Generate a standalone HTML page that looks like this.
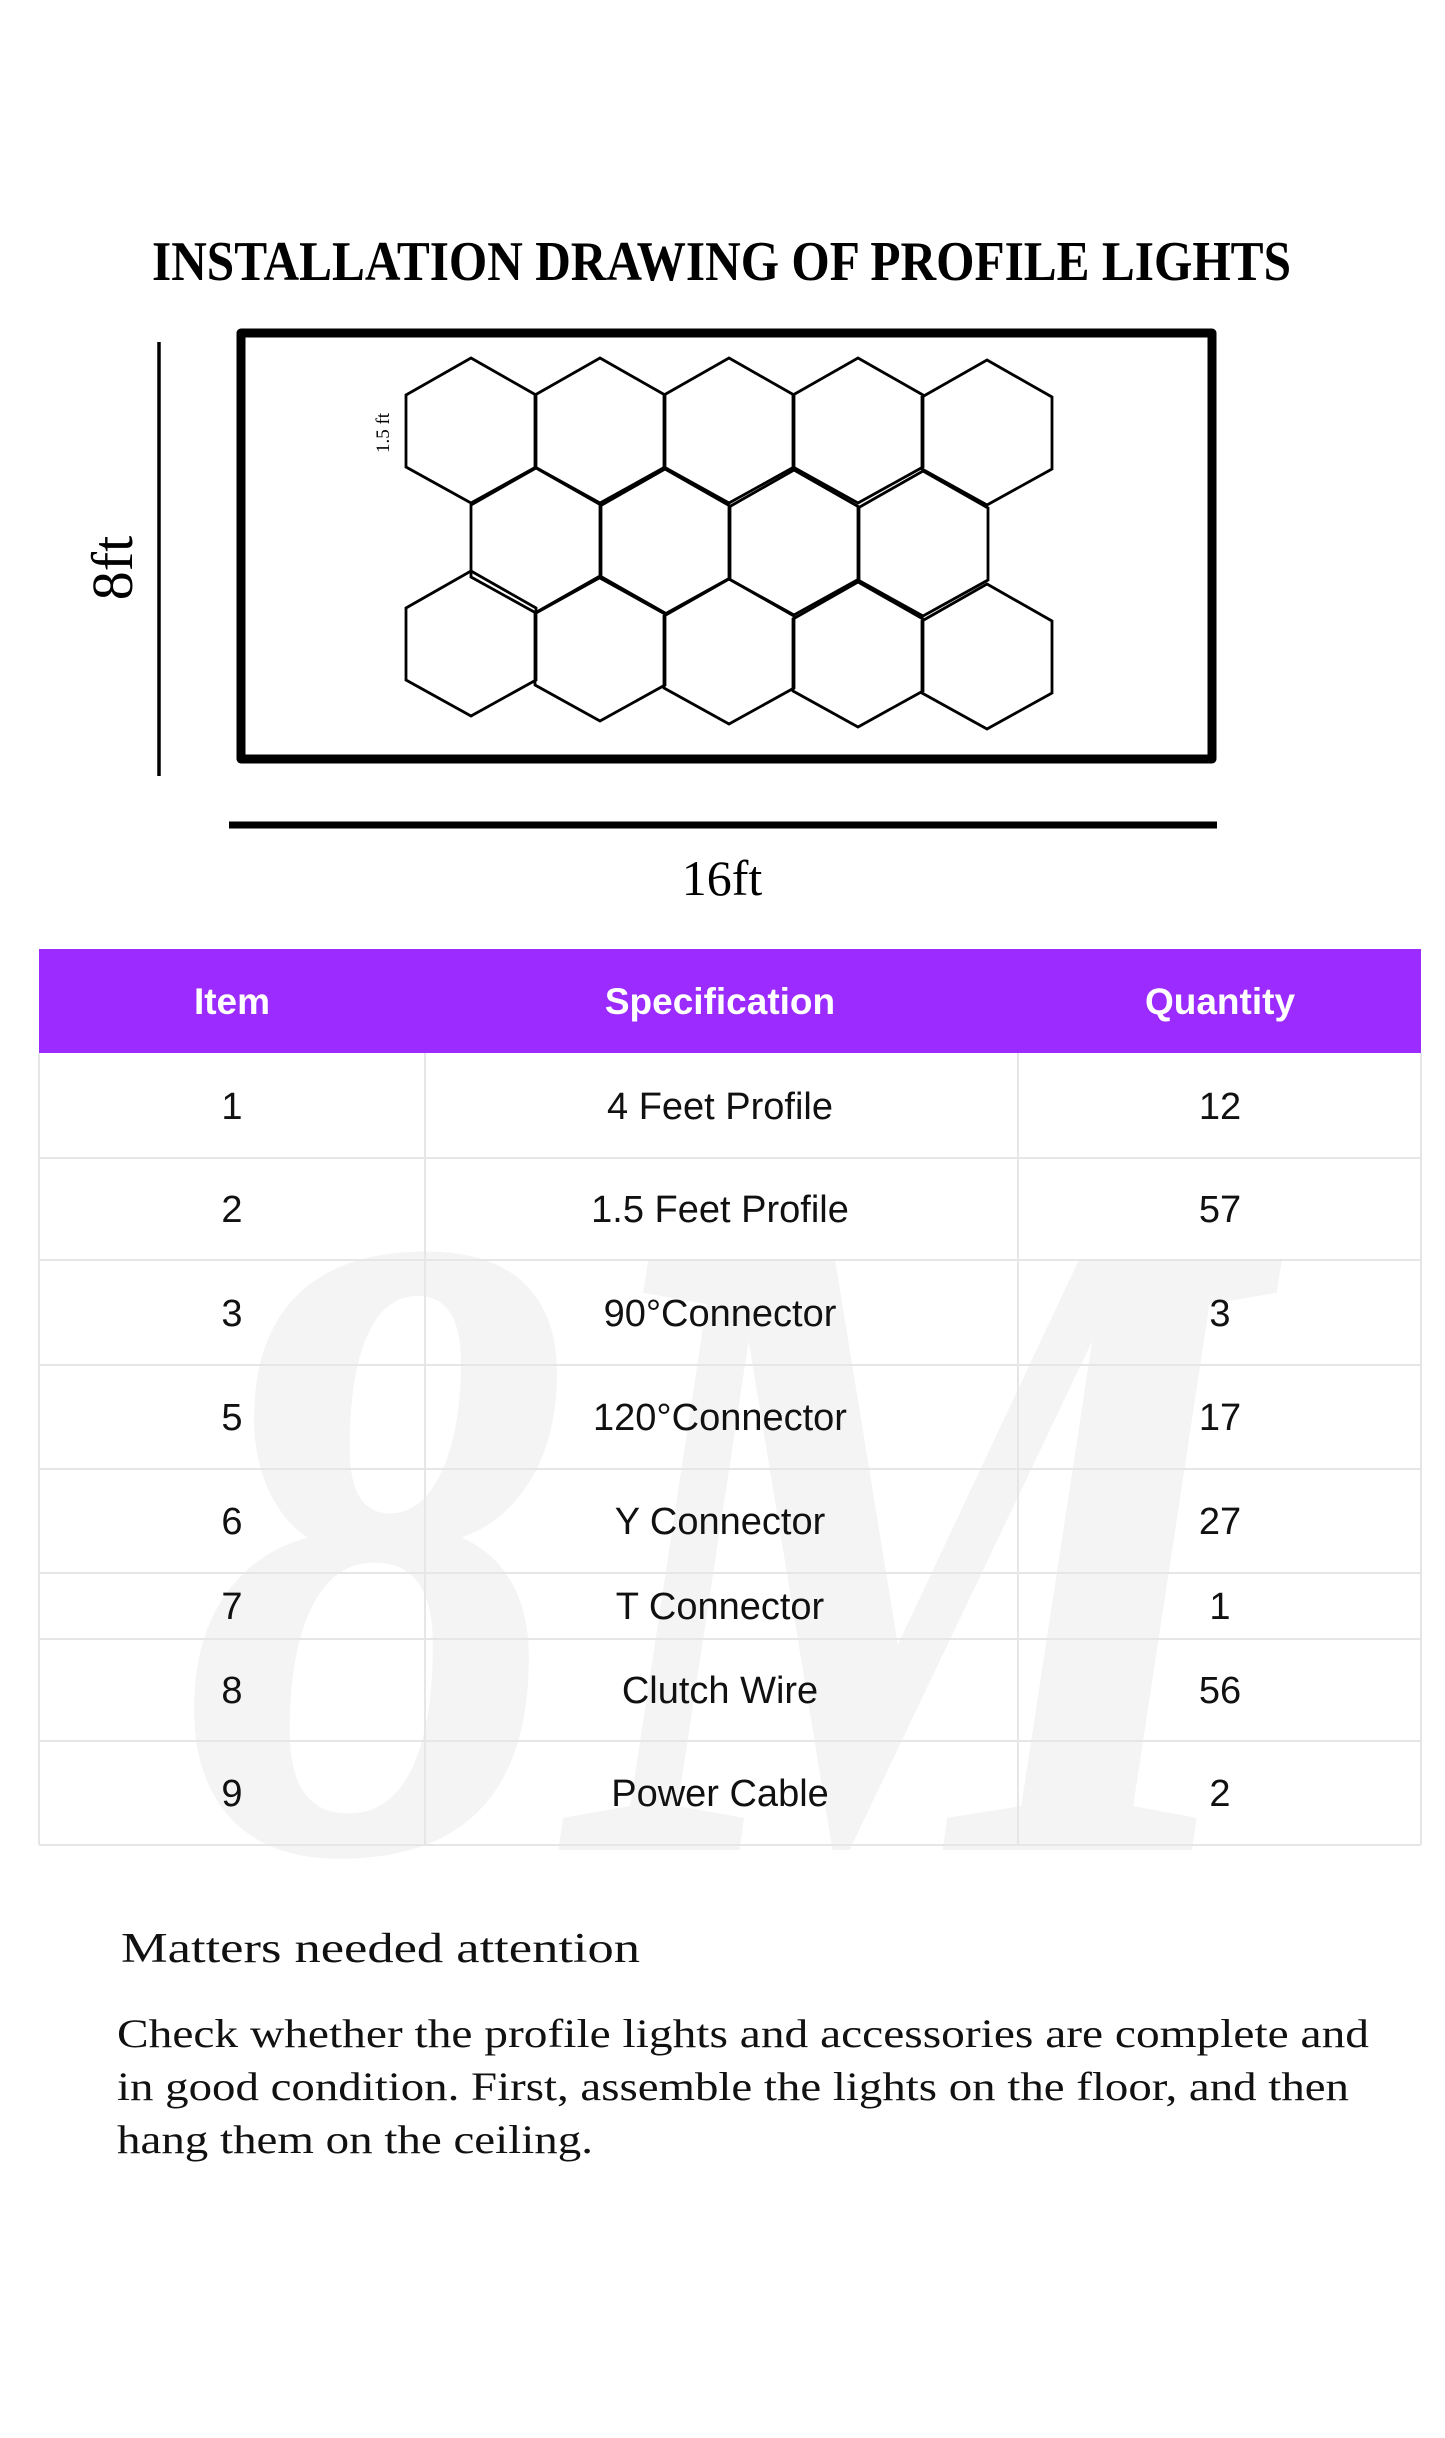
<!DOCTYPE html>
<html><head><meta charset="utf-8"><style>
html,body{margin:0;padding:0;background:#fff;}
body{width:1445px;height:2438px;position:relative;overflow:hidden;}
svg{position:absolute;left:0;top:0;}
</style></head><body>
<svg width="1445" height="2438" viewBox="0 0 1445 2438">
  <g fill="#f4f4f4">
    <text x="180" y="1850" font-family="Liberation Serif" font-weight="bold" font-style="italic" font-size="900" textLength="1080" lengthAdjust="spacingAndGlyphs">8M</text>
  </g>
  <text x="152" y="280" font-family="Liberation Serif" font-weight="bold" font-size="56" textLength="1139" lengthAdjust="spacingAndGlyphs" fill="#000">INSTALLATION DRAWING OF PROFILE LIGHTS</text>
  <rect x="241" y="333" width="971" height="426" fill="none" stroke="#000" stroke-width="9" stroke-linejoin="round"/>
  <line x1="159" y1="342" x2="159" y2="776" stroke="#000" stroke-width="3.5"/>
  <line x1="229" y1="825" x2="1217" y2="825" stroke="#000" stroke-width="7"/>
  <text transform="translate(132,568) rotate(-90)" text-anchor="middle" font-family="Liberation Serif" font-size="58" fill="#000">8ft</text>
  <text x="722" y="895" text-anchor="middle" font-family="Liberation Serif" font-size="50" fill="#000">16ft</text>
  <text transform="translate(389,433) rotate(-90)" text-anchor="middle" font-family="Liberation Serif" font-size="19" fill="#000">1.5 ft</text>
  <defs>
    <polygon id="h" points="0,-72 65,-35 65,37 0,73 -65,37 -65,-35" fill="none" stroke="#000" stroke-width="2.8"/>
  </defs>
  <g>
    <use href="#h" x="471" y="430"/><use href="#h" x="600" y="430"/><use href="#h" x="729" y="430"/><use href="#h" x="858" y="430"/><use href="#h" x="987" y="432"/>
    <use href="#h" x="536" y="540"/><use href="#h" x="665" y="541"/><use href="#h" x="794" y="542"/><use href="#h" x="923" y="543"/>
    <use href="#h" x="471" y="643"/><use href="#h" x="600" y="648"/><use href="#h" x="729" y="651"/><use href="#h" x="858" y="654"/><use href="#h" x="987" y="656"/>
  </g>
  <rect x="39" y="949" width="1382" height="104" fill="#9b2bff"/>
  <g stroke="#e6e6e6" stroke-width="2" fill="none">
    <line x1="39" y1="1053" x2="39" y2="1845"/><line x1="1421" y1="1053" x2="1421" y2="1845"/>
    <line x1="425" y1="1053" x2="425" y2="1845"/><line x1="1018" y1="1053" x2="1018" y2="1845"/>
    <line x1="39" y1="1158" x2="1421" y2="1158"/><line x1="39" y1="1260" x2="1421" y2="1260"/>
    <line x1="39" y1="1365" x2="1421" y2="1365"/><line x1="39" y1="1469" x2="1421" y2="1469"/>
    <line x1="39" y1="1573" x2="1421" y2="1573"/><line x1="39" y1="1639" x2="1421" y2="1639"/>
    <line x1="39" y1="1741" x2="1421" y2="1741"/><line x1="39" y1="1845" x2="1421" y2="1845"/>
  </g>
  <g font-family="Liberation Sans, sans-serif" text-anchor="middle">
    <g fill="#fff" font-weight="bold" font-size="37">
      <text x="232" y="1014">Item</text><text x="720" y="1014">Specification</text><text x="1220" y="1014">Quantity</text>
    </g>
    <g fill="#111" font-size="38">
      <text x="232" y="1119">1</text><text x="720" y="1119">4 Feet Profile</text><text x="1220" y="1119">12</text>
      <text x="232" y="1222">2</text><text x="720" y="1222">1.5 Feet Profile</text><text x="1220" y="1222">57</text>
      <text x="232" y="1326">3</text><text x="720" y="1326">90°Connector</text><text x="1220" y="1326">3</text>
      <text x="232" y="1430">5</text><text x="720" y="1430">120°Connector</text><text x="1220" y="1430">17</text>
      <text x="232" y="1534">6</text><text x="720" y="1534">Y Connector</text><text x="1220" y="1534">27</text>
      <text x="232" y="1619">7</text><text x="720" y="1619">T Connector</text><text x="1220" y="1619">1</text>
      <text x="232" y="1703">8</text><text x="720" y="1703">Clutch Wire</text><text x="1220" y="1703">56</text>
      <text x="232" y="1806">9</text><text x="720" y="1806">Power Cable</text><text x="1220" y="1806">2</text>
    </g>
  </g>
  <g font-family="Liberation Serif, serif" fill="#111">
    <text x="121" y="1962" font-size="42" textLength="519" lengthAdjust="spacingAndGlyphs">Matters needed attention</text>
    <text x="117" y="2047" font-size="40" textLength="1252" lengthAdjust="spacingAndGlyphs">Check whether the  profile lights and accessories are complete and</text>
    <text x="117" y="2100" font-size="40" textLength="1232" lengthAdjust="spacingAndGlyphs">in good condition. First, assemble the lights on the floor, and then</text>
    <text x="117" y="2153" font-size="40" textLength="476" lengthAdjust="spacingAndGlyphs">hang them on the ceiling.</text>
  </g>
</svg>
</body></html>
